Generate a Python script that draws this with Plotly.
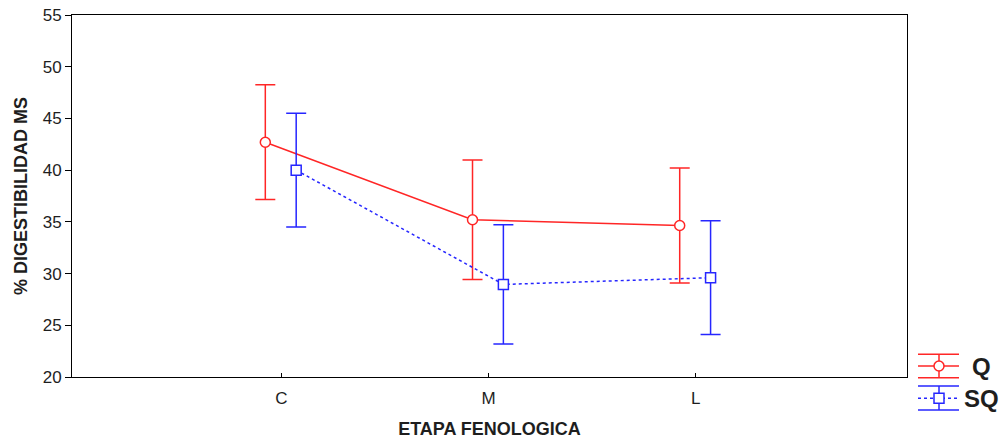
import numpy as np
import plotly.graph_objects as go

categories = ["C", "M", "L"]
q_mean = [42.7, 35.2, 34.65]
q_err = [5.55, 5.77, 5.55]
sq_mean = [40.0, 28.95, 29.6]
sq_err = [5.5, 5.77, 5.5]
series_names = ["Q", "SQ"]

RED = "#ff2626"
BLUE = "#2626ff"
TXT = "#1e1e1e"
FONT = "Liberation Sans, Arial"
W, H = 1005, 442
L_M, R_M, T_M, B_M = 72, 98, 15, 65
PW, PH = W - L_M - R_M, H - T_M - B_M

base = np.arange(len(categories))
fig = go.Figure()
fig.add_trace(go.Scatter(
    x=base - 0.077, y=q_mean, mode="lines+markers", name=series_names[0],
    line=dict(color=RED, width=1.5),
    marker=dict(symbol="circle", size=10, color="white", line=dict(color=RED, width=1.5)),
    error_y=dict(type="data", array=q_err, visible=True, color=RED, thickness=1.5, width=10),
    showlegend=False))
fig.add_trace(go.Scatter(
    x=base + 0.072, y=sq_mean, mode="lines+markers", name=series_names[1],
    line=dict(color=BLUE, width=1.5, dash="dot"),
    marker=dict(symbol="square", size=10, color="white", line=dict(color=BLUE, width=1.5)),
    error_y=dict(type="data", array=sq_err, visible=True, color=BLUE, thickness=1.5, width=10),
    showlegend=False))

def px(xp):
    return (xp - L_M) / PW

def py(yp):
    return (H - B_M - yp) / PH

shapes = []
annotations = []
legend_rows = [(354.3, 366.0, 377.7, RED, "solid", "circle", series_names[0]),
               (386.0, 398.3, 410.0, BLUE, "dot", "square", series_names[1])]
x0, x1, xc = 918, 959, 939
for top, mid, bot, col, dash, sym, name in legend_rows:
    for yy in (top, bot):
        shapes.append(dict(type="line", xref="paper", yref="paper",
                           x0=px(x0), x1=px(x1), y0=py(yy), y1=py(yy),
                           line=dict(color=col, width=1.5)))
    shapes.append(dict(type="line", xref="paper", yref="paper",
                       x0=px(x0), x1=px(x1), y0=py(mid), y1=py(mid),
                       line=dict(color=col, width=1.5, dash=dash)))
    shapes.append(dict(type="line", xref="paper", yref="paper",
                       x0=px(xc), x1=px(xc), y0=py(top), y1=py(bot),
                       line=dict(color=col, width=1.5)))
    kind = "circle" if sym == "circle" else "rect"
    shapes.append(dict(type=kind, xref="paper", yref="paper",
                       x0=px(xc - 5), x1=px(xc + 5), y0=py(mid - 5), y1=py(mid + 5),
                       line=dict(color=col, width=1.5), fillcolor="white"))
    annotations.append(dict(xref="paper", yref="paper", x=px(981.5), y=py(mid),
                            xanchor="center", yanchor="middle", showarrow=False,
                            text="<b>%s</b>" % name,
                            font=dict(family=FONT, size=24, color=TXT)))

fig.update_layout(
    width=W, height=H,
    margin=dict(l=L_M, r=R_M, t=T_M, b=B_M, autoexpand=False),
    paper_bgcolor="white", plot_bgcolor="white",
    font=dict(family=FONT, size=17, color=TXT),
    shapes=shapes, annotations=annotations,
    xaxis=dict(range=[-1.01, 3.02], tickmode="array", tickvals=base, ticktext=categories,
               automargin=False,
               showgrid=False, zeroline=False, showline=True, linecolor="black", linewidth=1,
               mirror=True, ticks="inside", ticklen=4, tickcolor="black",
               ticklabelstandoff=6,
               title=dict(text="<b>ETAPA FENOLOGICA</b>", font=dict(size=18), standoff=14)),
    yaxis=dict(range=[20, 55], tickmode="array", tickvals=list(range(20, 56, 5)),
               automargin=False,
               showgrid=False, zeroline=False, showline=True, linecolor="black", linewidth=1,
               mirror=True, ticks="outside", ticklen=6, tickcolor="black",
               title=dict(text="<b>% DIGESTIBILIDAD MS</b>", font=dict(size=18), standoff=10)),
)

fig.write_html("out.html")
